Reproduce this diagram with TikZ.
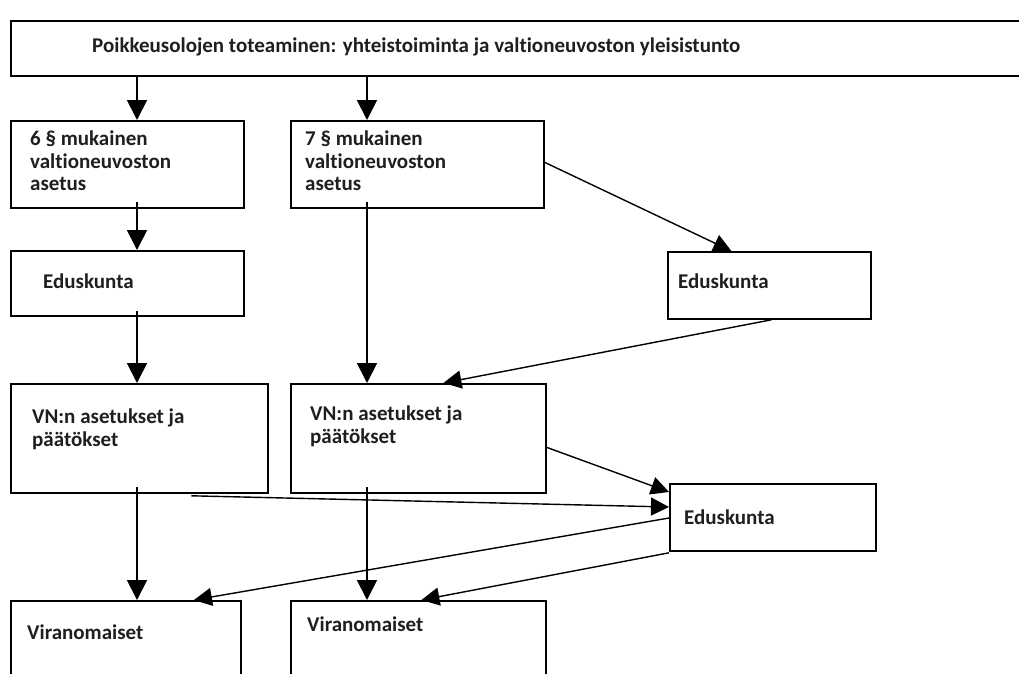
\documentclass[tikz,border=0pt]{standalone}
\usepackage{fontspec}
\setmainfont{Carlito}[Ligatures=NoCommon]
\usetikzlibrary{arrows.meta}
\begin{document}
\begin{tikzpicture}[x=1pt,y=-1pt,
  box/.style={draw, line width=1.8pt, anchor=north west, inner sep=0pt},
  lbl/.style={anchor=north west, inner sep=0pt, align=left, text=black!88,
              font=\bfseries\fontsize{21}{22.5}\selectfont},
  arr/.style={line width=1.8pt, -{Triangle[length=20pt,width=20pt]}},
  darr/.style={line width=1.4pt, -{Triangle[length=18pt,width=18pt]}}]
\clip (0,0) rectangle (1019,673);
\fill[white] (0,0) rectangle (1019,673);
% boxes
\node[box, minimum width=1015pt, minimum height=55pt] (top) at (10,20) {};
\node[box, minimum width=233pt, minimum height=87pt] (a1) at (10,120) {};
\node[box, minimum width=253pt, minimum height=87pt] (b1) at (290,120) {};
\node[box, minimum width=233pt, minimum height=65pt] (a2) at (10,250) {};
\node[box, minimum width=203pt, minimum height=67pt] (c2) at (667,251) {};
\node[box, minimum width=257pt, minimum height=109pt] (a3) at (10,383) {};
\node[box, minimum width=255pt, minimum height=109pt] (b3) at (290,383) {};
\node[box, minimum width=206pt, minimum height=67pt] (c3) at (669,483) {};
\node[box, minimum width=230pt, minimum height=90pt] (a4) at (10,600) {};
\node[box, minimum width=255pt, minimum height=90pt] (b4) at (290,600) {};
% texts
\node[lbl] (t0) at (92,38) {Poikkeusolojen toteaminen: yhteistoiminta ja valtioneuvoston yleisistunto};
\node[lbl] (ta1) at (30,131) {6 § mukainen\\valtioneuvoston\\asetus};
\node[lbl] (tb1) at (305,131) {7 § mukainen\\valtioneuvoston\\asetus};
\node[lbl] (ta2) at (43,274) {Eduskunta};
\node[lbl] (tc2) at (678,274) {Eduskunta};
\node[lbl] (ta3) at (32,409) {VN:n asetukset ja\\päätökset};
\node[lbl] (tb3) at (310,406) {VN:n asetukset ja\\päätökset};
\node[lbl] (tc3) at (684,510) {Eduskunta};
\node[lbl] (ta4) at (27,625) {Viranomaiset};
\node[lbl] (tb4) at (307,617) {Viranomaiset};
% connectors
\coordinate (cA) at (137,0);
\coordinate (cB) at (367,0);
\draw[arr] (cA |- top.south) -- (cA |- a1.north);
\draw[arr] (cB |- top.south) -- (cB |- b1.north);
\draw[arr, shorten <=-7pt] (cA |- a1.south) -- (cA |- a2.north);
\draw[arr, shorten <=-7pt] (cB |- b1.south) -- (cB |- b3.north);
\draw[arr, shorten <=-6pt] (cA |- a2.south) -- (cA |- a3.north);
\draw[darr] ([yshift=2pt]b1.east) -- ([xshift=-38pt]c2.north);
\draw[darr] ([xshift=2pt]c2.south) -- ([xshift=25pt]b3.north);
\draw[darr] ([yshift=-9pt]b3.east) -- ([yshift=-9pt]c3.north west);
\draw[darr] ([xshift=52pt,yshift=-2pt]a3.south) -- ([yshift=-24pt]c3.north west);
\draw[arr, shorten <=-7pt] (cA |- a3.south) -- (cA |- a4.north);
\draw[arr, shorten <=-7pt] (cB |- b3.south) -- (cB |- b4.north);
\draw[darr] ([yshift=-35pt]c3.north west) -- ([xshift=68pt]a4.north);
\draw[darr] ([yshift=-1pt]c3.south west) -- ([xshift=3pt]b4.north);
\end{tikzpicture}
\end{document}
